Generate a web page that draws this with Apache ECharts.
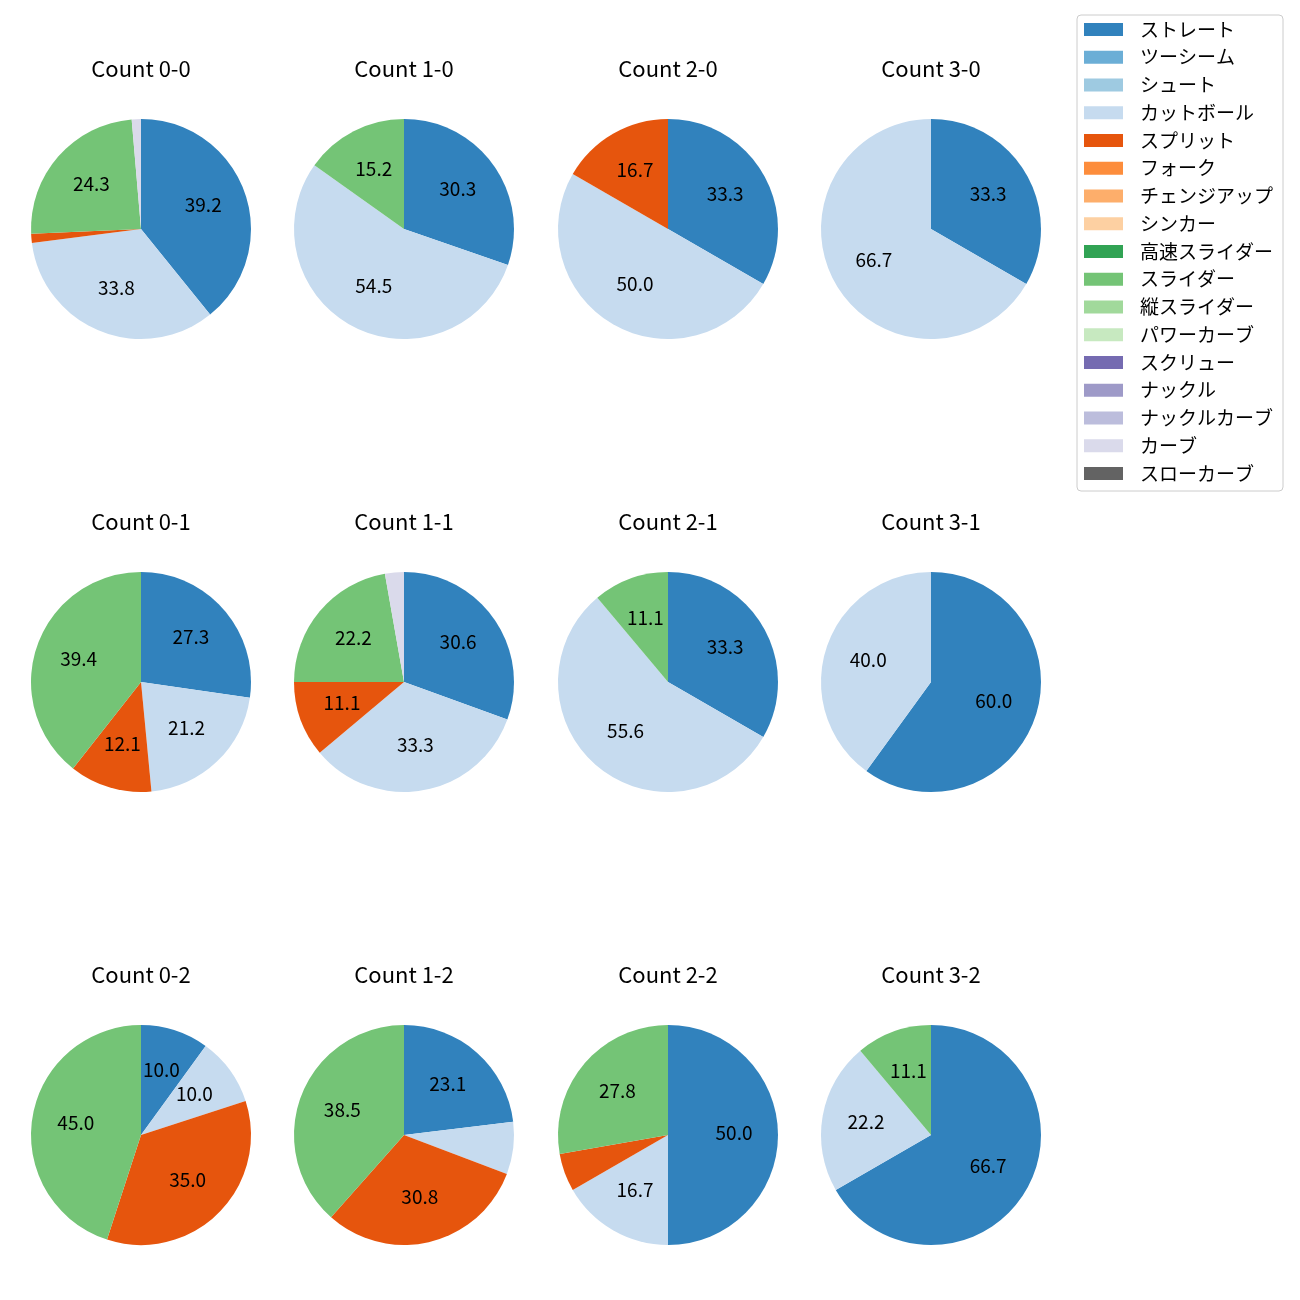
<!DOCTYPE html>
<html><head><meta charset="utf-8">
<script src="https://cdn.jsdelivr.net/npm/echarts@6/dist/echarts.min.js"></script>
<style>html,body{margin:0;padding:0;background:#fff}#c{width:1300px;height:1300px}</style>
</head><body><div id="c"></div>
<script>
const pitchTypes = ['ストレート','ツーシーム','シュート','カットボール','スプリット','フォーク','チェンジアップ','シンカー','高速スライダー','スライダー','縦スライダー','パワーカーブ','スクリュー','ナックル','ナックルカーブ','カーブ','スローカーブ'];
const palette = ['#3182bd','#6baed6','#9ecae1','#c6dbef','#e6550d','#fd8d3c','#fdae6b','#fdd0a2','#31a354','#74c476','#a1d99b','#c7e9c0','#756bb1','#9e9ac8','#bcbddc','#dadaeb','#636363'];
const countLabels = ['0-0','1-0','2-0','3-0','0-1','1-1','2-1','3-1','0-2','1-2','2-2','3-2'];
// pitch counts per ball-strike count, in pitchTypes order
const count00 = [29,0,0,25,1,0,0,0,0,18,0,0,0,0,0,1,0];
const count10 = [10,0,0,18,0,0,0,0,0,5,0,0,0,0,0,0,0];
const count20 = [2,0,0,3,1,0,0,0,0,0,0,0,0,0,0,0,0];
const count30 = [1,0,0,2,0,0,0,0,0,0,0,0,0,0,0,0,0];
const count01 = [9,0,0,7,4,0,0,0,0,13,0,0,0,0,0,0,0];
const count11 = [11,0,0,12,4,0,0,0,0,8,0,0,0,0,0,1,0];
const count21 = [3,0,0,5,0,0,0,0,0,1,0,0,0,0,0,0,0];
const count31 = [3,0,0,2,0,0,0,0,0,0,0,0,0,0,0,0,0];
const count02 = [2,0,0,2,7,0,0,0,0,9,0,0,0,0,0,0,0];
const count12 = [3,0,0,1,4,0,0,0,0,5,0,0,0,0,0,0,0];
const count22 = [9,0,0,3,1,0,0,0,0,5,0,0,0,0,0,0,0];
const count32 = [6,0,0,2,0,0,0,0,0,1,0,0,0,0,0,0,0];
const allCounts = [count00,count10,count20,count30,count01,count11,count21,count31,count02,count12,count22,count32];

const colX = [141, 404, 668, 931];
const rowY = [229, 682, 1135];
const R = 110;
const FONT = 'Noto Sans CJK JP';

const titles = [], pies = [], labelPies = [];
allCounts.forEach((vals, i) => {
  const cx = colX[i % 4], cy = rowY[Math.floor(i / 4)];
  const total = vals.reduce((a, b) => a + b, 0);
  const data = pitchTypes.map((n, k) => ({ name: n, value: vals[k] }));
  titles.push({
    text: 'Count ' + countLabels[i], left: cx, top: cy - R - 61, textAlign: 'center', padding: 0,
    textStyle: { fontFamily: FONT, fontSize: 22, fontWeight: 'normal', color: '#000' }
  });
  pies.push({
    type: 'pie', center: [cx, cy], radius: [0, R], startAngle: 90, clockwise: true,
    data: data, label: { show: false }, labelLine: { show: false },
    itemStyle: { borderWidth: 0 }, emphasis: { disabled: true }, animation: false
  });
  labelPies.push({
    type: 'pie', center: [cx, cy], radius: [16, R], startAngle: 90, clockwise: true,
    data: data, silent: true, animation: false,
    itemStyle: { color: 'rgba(0,0,0,0)', borderWidth: 0 },
    labelLine: { show: false }, avoidLabelOverlap: false,
    label: {
      show: true, position: 'inside', fontFamily: FONT, fontSize: 19, color: '#000', offset: [0, -2],
      formatter: p => { const pct = p.value / total * 100; return pct >= 10 ? pct.toFixed(1) : ''; }
    },
    emphasis: { disabled: true }
  });
});

const chart = echarts.init(document.getElementById('c'), null, { renderer: 'canvas' });
chart.setOption({
  animation: false,
  color: palette,
  title: titles,
  legend: {
    orient: 'vertical', left: 1077, top: 15, data: pitchTypes,
    itemWidth: 39, itemHeight: 13, itemGap: 8.75,
    icon: 'rect', padding: [5, 10, 8, 7],
    borderColor: '#cccccc', borderWidth: 1, borderRadius: 4,
    selectedMode: false,
    textStyle: { fontFamily: FONT, fontSize: 19, color: '#000', padding: [0, 0, 0, 12] }
  },
  series: pies.concat(labelPies)
});
</script></body></html>
